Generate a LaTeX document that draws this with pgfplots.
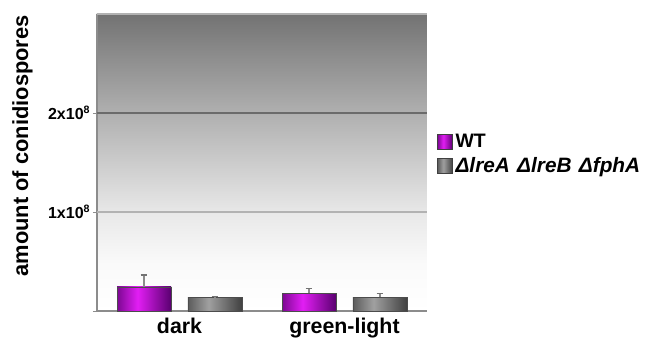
\documentclass[border=0pt]{standalone}
\usepackage{pgfplots}
\pgfplotsset{compat=1.18}
\usepackage{fontspec}
\setmainfont{Liberation Sans}
\definecolor{wtL}{HTML}{7C0892}
\definecolor{wtM}{HTML}{E21EF4}
\definecolor{wtR}{HTML}{5A0070}
\definecolor{grL}{HTML}{5C5C5C}
\definecolor{grM}{HTML}{A0A0A0}
\definecolor{grR}{HTML}{404040}
\definecolor{axgray}{HTML}{8C8C8C}
\pgfdeclareverticalshading{bgshade}{100bp}{%
  color(0bp)=(white);
  color(25bp)=(white);
  color(33bp)=(white!98!black);
  color(41.6bp)=(white!91!black);
  color(58.3bp)=(white!69!black);
  color(75bp)=(white!45!black);
  color(100bp)=(white!45!black)}
\pgfdeclarehorizontalshading{wtshade}{100bp}{%
  color(0bp)=(wtL); color(25bp)=(wtL); color(44bp)=(wtM); color(75bp)=(wtR); color(100bp)=(wtR)}
\pgfdeclarehorizontalshading{grshade}{100bp}{%
  color(0bp)=(grL); color(25bp)=(grL); color(44bp)=(grM); color(75bp)=(grR); color(100bp)=(grR)}
\pgfplotsset{
  wtbar/.style={shading=wtshade, draw=black!70, line width=0.4pt,
    error bars/.cd, y dir=plus, y explicit, error bar style={axgray, line width=0.8pt},
    error mark options={rotate=90, black!55, mark size=2.5pt, line width=0.9pt}, /pgfplots/.cd},
  grbar/.style={shading=grshade, draw=black!70, line width=0.4pt,
    error bars/.cd, y dir=plus, y explicit, error bar style={axgray, line width=0.8pt},
    error mark options={rotate=90, black!55, mark size=2.5pt, line width=0.9pt}, /pgfplots/.cd},
}
\begin{document}
\begin{tikzpicture}[x=1pt,y=1pt]
\useasboundingbox (-72.75pt,-21pt) rectangle (414.75pt,233.25pt);
\begin{axis}[
  scale only axis,
  width=247.5pt, height=222.75pt,
  axis background/.style={shading=bgshade},
  xmin=-0.5, xmax=1.5,
  ymin=0, ymax=3,
  ybar, bar shift=0pt,
  bar width=40.5pt,
  axis x line*=bottom,
  axis y line*=left,
  axis line style={axgray, line width=0.8pt, -},
  xtick={0,1},
  xticklabels={dark,green-light},
  major x tick style={draw=none},
  extra x ticks={0.5},
  extra x tick labels={},
  extra x tick style={major tick length=3pt, tick style={axgray}},
  ytick={0,1,2},
  yticklabels={,{1x10\textsuperscript{8}},{2x10\textsuperscript{8}}},
  ytick style={axgray},
  major tick length=3pt,
  tick align=outside,
  xticklabel style={font=\fontsize{16}{18}\selectfont\bfseries, yshift=1pt},
  yticklabel style={font=\fontsize{12}{14}\selectfont\bfseries, xshift=1.5pt},
  ylabel={amount of conidiospores},
  ylabel style={font=\fontsize{16.4}{19}\selectfont\bfseries, at={(axis description cs:-0.2258,0.556)}, anchor=center},
  legend style={draw=none, fill=none, at={(axis description cs:1.018,0.528)}, anchor=west,
    font=\fontsize{14.6}{17}\selectfont\bfseries, row sep=1.5pt,
    /tikz/every even column/.append style={column sep=4pt}},
  legend cell align=left,
  legend image code/.code={\draw[#1, draw=black!75, line width=0.5pt] (0pt,-5.6pt) rectangle (11.25pt,5.6pt);},
  clip=false,
]
\draw[white!42!black, line width=1.2pt] (axis cs:-0.5,2) -- (axis cs:1.5,2);
\draw[white!70!black, line width=1.2pt] (axis cs:-0.5,1) -- (axis cs:1.5,1);
\draw[white!70!black, line width=0.8pt] (axis cs:-0.5,3) -- (axis cs:1.5,3);
\addplot[wtbar] coordinates {(-0.215,0.243) +- (0,0.121)};
\addplot[grbar] coordinates {(0.215,0.140) +- (0,0.006)};
\addplot[forget plot, wtbar] coordinates {(0.785,0.180) +- (0,0.047)};
\addplot[forget plot, grbar] coordinates {(1.215,0.140) +- (0,0.040)};
\legend{WT,{\itshape\fontsize{15.6}{17}\selectfont ΔlreA\hspace{0.35em}ΔlreB\hspace{0.35em}ΔfphA}}
\end{axis}
\end{tikzpicture}
\end{document}
